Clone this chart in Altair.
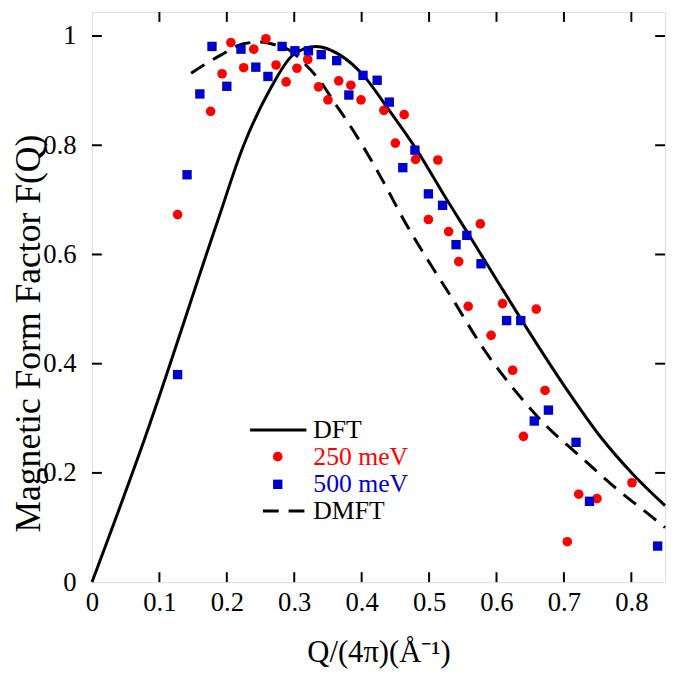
import altair as alt
import pandas as pd

# ---- data ----
dft_q = [0, 0.078, 0.186, 0.225, 0.264, 0.298, 0.332, 0.367, 0.406, 0.435, 0.484, 0.523, 0.562, 0.601, 0.650, 0.704, 0.753, 0.802, 0.85]
dft_f = [0, 0.262, 0.660, 0.800, 0.902, 0.965, 0.981, 0.966, 0.923, 0.874, 0.787, 0.707, 0.630, 0.552, 0.455, 0.353, 0.268, 0.198, 0.140]

dmft_q = [0.147, 0.166, 0.191, 0.225, 0.249, 0.274, 0.293, 0.315, 0.340, 0.357, 0.378, 0.401, 0.430, 0.464, 0.499, 0.533, 0.582, 0.630, 0.674, 0.728, 0.777, 0.826, 0.85]
dmft_f = [0.932, 0.947, 0.965, 0.986, 0.989, 0.983, 0.974, 0.950, 0.915, 0.883, 0.845, 0.800, 0.738, 0.660, 0.588, 0.522, 0.425, 0.347, 0.286, 0.226, 0.172, 0.124, 0.100]

mev250_q = [0.206, 0.258, 0.240, 0.225, 0.273, 0.193, 0.288, 0.304, 0.320, 0.336, 0.350, 0.366, 0.384, 0.399, 0.433, 0.176, 0.127, 0.463,
            0.450, 0.480, 0.513, 0.499, 0.529, 0.576, 0.544, 0.558, 0.609, 0.659, 0.592, 0.624, 0.672, 0.640, 0.801, 0.722, 0.749, 0.705]
mev250_f = [0.988, 0.995, 0.976, 0.942, 0.947, 0.931, 0.916, 0.941, 0.957, 0.907, 0.883, 0.918, 0.910, 0.883, 0.864, 0.862, 0.673, 0.856,
            0.804, 0.774, 0.773, 0.664, 0.642, 0.656, 0.587, 0.505, 0.510, 0.500, 0.452, 0.388, 0.351, 0.267, 0.182, 0.161, 0.153, 0.074]

mev500_q = [0.178, 0.221, 0.282, 0.301, 0.321, 0.340, 0.363, 0.402, 0.423, 0.243, 0.261, 0.200, 0.160, 0.381, 0.141, 0.127, 0.441,
            0.479, 0.461, 0.499, 0.520, 0.556, 0.540, 0.577, 0.615, 0.636, 0.677, 0.656, 0.718, 0.738, 0.839]
mev500_f = [0.981, 0.976, 0.981, 0.973, 0.973, 0.966, 0.955, 0.928, 0.919, 0.943, 0.926, 0.908, 0.894, 0.892, 0.746, 0.380, 0.879,
            0.791, 0.759, 0.711, 0.690, 0.635, 0.618, 0.583, 0.479, 0.479, 0.315, 0.295, 0.256, 0.148, 0.066]

x_ticks = [0, 0.1, 0.2, 0.3, 0.4, 0.5, 0.6, 0.7, 0.8]
y_ticks = [0, 0.2, 0.4, 0.6, 0.8, 1.0]
legend_labels = ["DFT", "250 meV", "500 meV", "DMFT"]

FONT = "Liberation Serif"
W, H = 580, 577
RED = "#ff0000"
BLUE = "#0000cc"

xs = alt.Scale(domain=[0, 0.85], nice=False, zero=False)
ys = alt.Scale(domain=[0, 1.044], nice=False)

xaxis = alt.Axis(values=x_ticks, format="~g", ticks=False, domain=False, grid=False,
                 labelFont=FONT, labelFontSize=27, labelColor="black", labelPadding=8,
                 labelFlush=False, labelOverlap=False,
                 title="Q/(4π)(Å⁻¹)", titleFont=FONT, titleFontSize=31, titleFontWeight="normal",
                 titleColor="black", titleY=80, titleBaseline="alphabetic")
yaxis = alt.Axis(values=y_ticks, format="~g", ticks=False, domain=False, grid=False,
                 labelFont=FONT, labelFontSize=27, labelColor="black", labelPadding=16,
                 labelFlush=False, labelOverlap=False,
                 title="Magnetic Form Factor F(Q)", titleFont=FONT, titleFontSize=36,
                 titleFontWeight="normal", titleColor="black", titleX=-64, titleY=325,
                 titleBaseline="middle")

dft_df = pd.DataFrame({"q": dft_q, "f": dft_f})
dmft_df = pd.DataFrame({"q": dmft_q, "f": dmft_f})
r_df = pd.DataFrame({"q": mev250_q, "f": mev250_f})
b_df = pd.DataFrame({"q": mev500_q, "f": mev500_f})

base_x = alt.X("q:Q", scale=xs, axis=xaxis)
base_y = alt.Y("f:Q", scale=ys, axis=yaxis)

dft = alt.Chart(dft_df).mark_line(color="black", strokeWidth=3, interpolate="monotone").encode(
    x=base_x, y=base_y, order="q:Q")
dmft = alt.Chart(dmft_df).mark_line(color="black", strokeWidth=3, strokeDash=[16, 10],
                                     interpolate="monotone").encode(
    x=alt.X("q:Q", scale=xs), y=alt.Y("f:Q", scale=ys), order="q:Q")
red = alt.Chart(r_df).mark_point(shape="circle", filled=True, color=RED, size=95, opacity=1).encode(
    x=alt.X("q:Q", scale=xs), y=alt.Y("f:Q", scale=ys))
blue = alt.Chart(b_df).mark_point(shape="square", filled=True, color=BLUE, size=90, opacity=1).encode(
    x=alt.X("q:Q", scale=xs), y=alt.Y("f:Q", scale=ys))

# inward ticks on all four sides
xt_df = pd.DataFrame({"q": x_ticks[1:]})
yt_df = pd.DataFrame({"f": y_ticks[1:]})
tick_style = dict(color="black", strokeWidth=2)
t_bottom = alt.Chart(xt_df).mark_rule(**tick_style).encode(
    x=alt.X("q:Q", scale=xs), y=alt.value(H), y2=alt.value(H - 10))
t_top = alt.Chart(xt_df).mark_rule(**tick_style).encode(
    x=alt.X("q:Q", scale=xs), y=alt.value(0), y2=alt.value(10))
t_left = alt.Chart(yt_df).mark_rule(**tick_style).encode(
    y=alt.Y("f:Q", scale=ys), x=alt.value(0), x2=alt.value(10))
t_right = alt.Chart(yt_df).mark_rule(**tick_style).encode(
    y=alt.Y("f:Q", scale=ys), x=alt.value(W), x2=alt.value(W - 10))

# manual legend
one = pd.DataFrame({"k": [0]})
LX = 224
leg_rows = [423, 450, 478, 505]
leg_colors = ["black", RED, BLUE, "black"]
legend_layers = []
for lab, yy, col in zip(legend_labels, leg_rows, leg_colors):
    legend_layers.append(
        alt.Chart(pd.DataFrame({"t": [lab]})).mark_text(
            align="left", baseline="middle", font=FONT, fontSize=26, color=col).encode(
            x=alt.value(LX), y=alt.value(yy), text="t:N"))
legend_layers.append(alt.Chart(one).mark_rule(color="black", strokeWidth=3).encode(
    x=alt.value(160), x2=alt.value(217), y=alt.value(leg_rows[0])))
legend_layers.append(alt.Chart(one).mark_point(shape="circle", filled=True, color=RED, size=95, opacity=1).encode(
    x=alt.value(188), y=alt.value(leg_rows[1])))
legend_layers.append(alt.Chart(one).mark_point(shape="square", filled=True, color=BLUE, size=90, opacity=1).encode(
    x=alt.value(188), y=alt.value(leg_rows[2])))
legend_layers.append(alt.Chart(one).mark_rule(color="black", strokeWidth=3, strokeDash=[16, 10]).encode(
    x=alt.value(173), x2=alt.value(215), y=alt.value(leg_rows[3])))

chart = alt.layer(dft, dmft, red, blue, t_bottom, t_top, t_left, t_right, *legend_layers).properties(
    width=W, height=H,
    autosize=alt.AutoSizeParams(type="none"),
    padding={"left": 85, "top": 0, "right": 4, "bottom": 95},
).configure_view(stroke="black", strokeWidth=2).configure(background="white")

chart.save("out.html", embed_options={"renderer": "svg", "actions": False})
